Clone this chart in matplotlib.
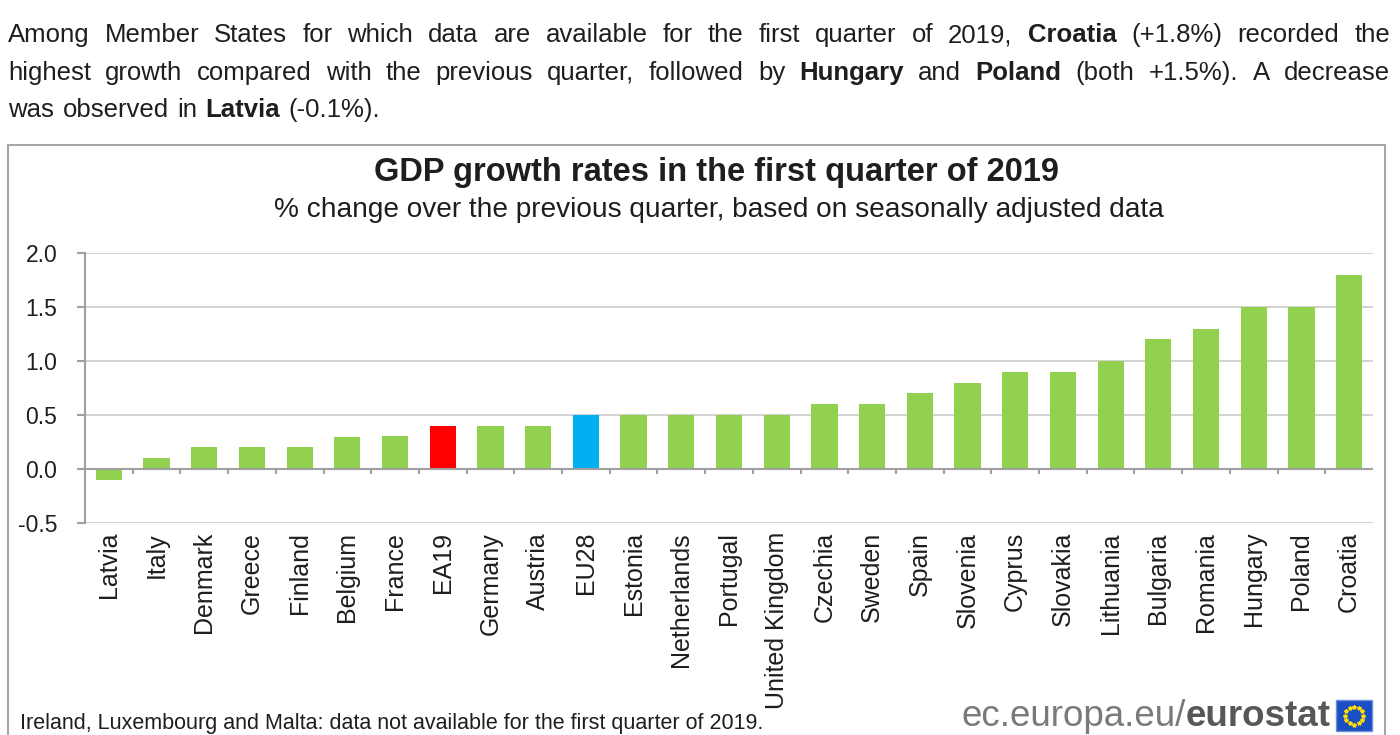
import matplotlib
matplotlib.use("Agg")
import matplotlib.pyplot as plt
from matplotlib.patches import Rectangle
import matplotlib.transforms as mtransforms
import numpy as np

categories = ["Latvia", "Italy", "Denmark", "Greece", "Finland", "Belgium", "France",
              "EA19", "Germany", "Austria", "EU28", "Estonia", "Netherlands", "Portugal",
              "United Kingdom", "Czechia", "Sweden", "Spain", "Slovenia", "Cyprus",
              "Slovakia", "Lithuania", "Bulgaria", "Romania", "Hungary", "Poland", "Croatia"]
values = [-0.1, 0.1, 0.2, 0.2, 0.2, 0.3, 0.31, 0.4, 0.4, 0.4, 0.5, 0.5, 0.5, 0.5,
          0.5, 0.6, 0.6, 0.7, 0.8, 0.9, 0.9, 1.0, 1.2, 1.3, 1.5, 1.5, 1.8]
yticks = [-0.5, 0.0, 0.5, 1.0, 1.5, 2.0]
highlight = {"EA19": "#ff0000", "EU28": "#00b0f0"}
base_color = "#92d050"

W, H = 1400, 735
plt.rcParams['font.family'] = ['Liberation Sans', 'DejaVu Sans']
fig = plt.figure(figsize=(W / 100, H / 100), dpi=100)
fig.patch.set_facecolor("white")
TXT = "#1e1e1e"

def fx(px):
    return px / W

def fy(py):
    return 1 - py / H

# ---- justified intro paragraph ----
para_lines = [
    ([("Among Member States for which data are available for the first quarter of 2019,", False),
      ("Croatia", True), ("(+1.8%) recorded the", False)], True),
    ([("highest growth compared with the previous quarter, followed by", False),
      ("Hungary", True), ("and", False), ("Poland", True),
      ("(both +1.5%). A decrease", False)], True),
    ([("was observed in", False), ("Latvia", True), ("(-0.1%).", False)], False),
]
para_fs = 18.5
left_px, right_px = 8, 1390
baselines = [42, 80, 117]
renderer = fig.canvas.get_renderer()

def measure(s, bold, fs):
    t = fig.text(0, 0, s, fontsize=fs, fontweight="bold" if bold else "normal")
    w = t.get_window_extent(renderer=renderer).width
    t.remove()
    return w

space_w = measure("a a", False, para_fs) - measure("aa", False, para_fs)
for (segs, justify), base in zip(para_lines, baselines):
    words = []
    for s, b in segs:
        for wd in s.split(" "):
            words.append((wd, b))
    widths = [measure(w, b, para_fs) for w, b in words]
    if justify:
        gap = (right_px - left_px - sum(widths)) / (len(words) - 1)
    else:
        gap = space_w * 1.2
    xx = left_px
    for (wd, b), wdt in zip(words, widths):
        fig.text(fx(xx), fy(base), wd, fontsize=para_fs,
                 fontweight="bold" if b else "normal", color=TXT,
                 ha="left", va="baseline")
        xx += wdt + gap

# ---- frame box ----
fig.add_artist(Rectangle((fx(8), fy(760)), fx(1385) - fx(8), fy(145) - fy(760),
                         transform=fig.transFigure, fill=False,
                         edgecolor="#a6a6a6", linewidth=1.5))

# ---- titles ----
fig.text(fx(717), fy(173), "GDP growth rates in the first quarter of 2019",
         fontsize=23.5, fontweight="bold", ha="center", va="center", color=TXT)
fig.text(fx(719), fy(210), "% change over the previous quarter, based on seasonally adjusted data",
         fontsize=20.2, ha="center", va="center", color=TXT)

# ---- axes ----
ax = fig.add_axes([fx(85), fy(523), fx(1373) - fx(85), fy(253) - fy(523)])
x = np.arange(len(categories))
colors = [highlight.get(c, base_color) for c in categories]
ax.bar(x, values, width=0.55, color=colors, zorder=3)
ax.set_xlim(-0.5, len(categories) - 0.5)
ax.set_ylim(min(yticks), max(yticks))
ax.set_yticks(yticks)
ax.set_yticklabels([f"{v:.1f}" for v in yticks], fontsize=16.5, color=TXT)
ax.yaxis.grid(True, color="#cfcfcf", linewidth=1.3, zorder=0)
for s in ["top", "right", "bottom"]:
    ax.spines[s].set_visible(False)
ax.spines["left"].set_color("#a0a0a0")
ax.spines["left"].set_linewidth(1.5)
ax.tick_params(axis="y", length=6, color="#a0a0a0", width=1.5, pad=14)
ax.axhline(0, color="#a0a0a0", linewidth=1.5, zorder=4)
ax.set_xticks(x)
ax.set_xticklabels([])
ax.tick_params(axis="x", length=0)
bounds = np.arange(0.5, len(categories) - 0.5, 1.0)
ax.vlines(bounds, -0.05, 0, color="#a0a0a0", linewidth=1.5, zorder=4)
lab_tr = ax.transData + mtransforms.ScaledTranslation(0, -9 / 100, fig.dpi_scale_trans)
for xi, lab in zip(x, categories):
    ax.text(xi, -0.5, lab, rotation=90, ha="center", va="top", fontsize=18,
            color=TXT, transform=lab_tr, clip_on=False)

# ---- footer ----
fig.text(fx(20), fy(724), "Ireland, Luxembourg and Malta: data not available for the first quarter of 2019.",
         fontsize=15.5, ha="left", va="center", color=TXT)
t2 = fig.text(fx(1331), fy(716), "eurostat", fontsize=26.5, fontweight="bold", ha="right",
              va="center", color="#575757")
bb = t2.get_window_extent(renderer=renderer)
fig.text(bb.x0 / W, fy(716), "ec.europa.eu/", fontsize=26.5, ha="right", va="center",
         color="#7a7a7a")
fig.add_artist(Rectangle((fx(1336), fy(731)), fx(1372) - fx(1336), fy(700) - fy(731),
                         transform=fig.transFigure, facecolor="#1a4fc4",
                         edgecolor="#6f8fd8", linewidth=1))
ang = np.linspace(0, 2 * np.pi, 12, endpoint=False)
fig.add_artist(matplotlib.lines.Line2D(fx(1354) + fx(9) * np.cos(ang),
                                       fy(715.5) + (9 / H) * np.sin(ang),
                                       transform=fig.transFigure, linestyle="none",
                                       marker="*", markersize=3, color="#ffdd00"))

fig.savefig("out.png", dpi=100, facecolor="white")
